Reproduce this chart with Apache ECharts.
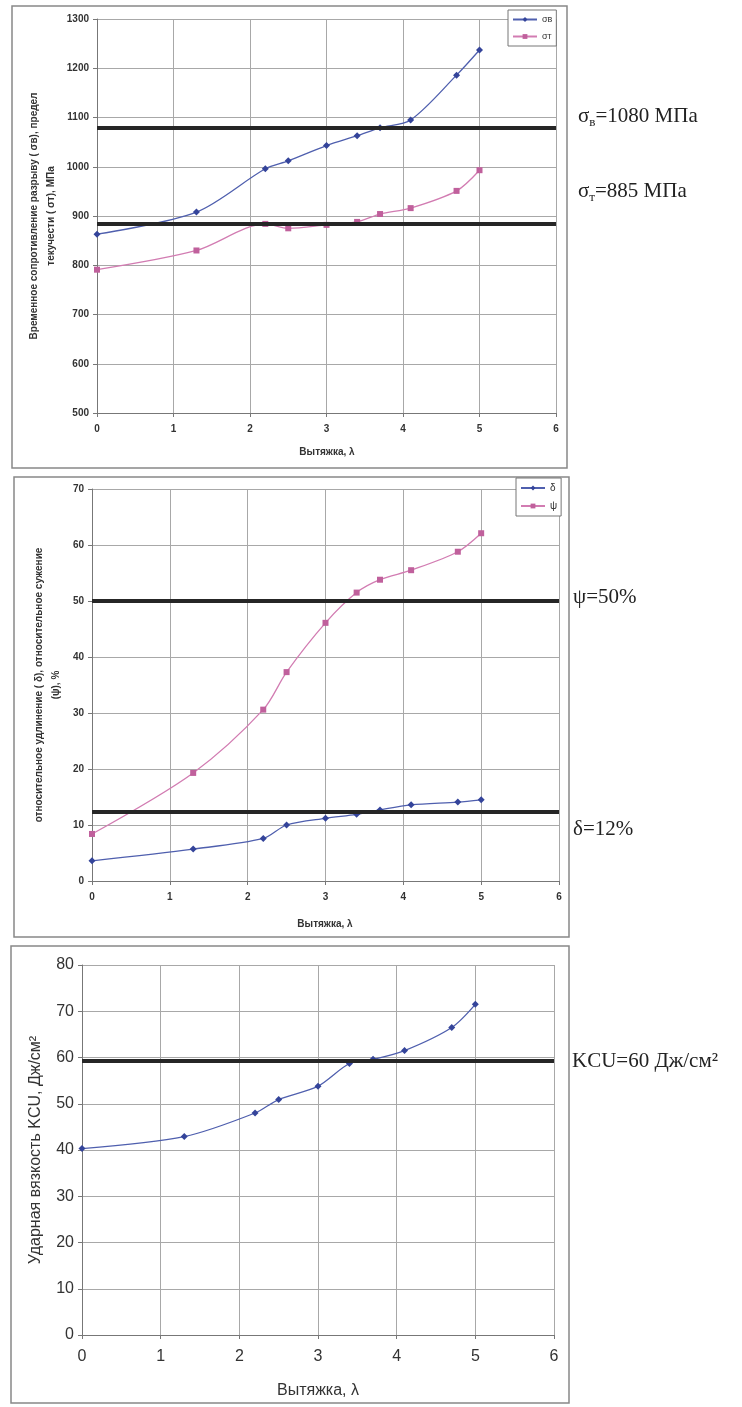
<!DOCTYPE html>
<html>
<head>
<meta charset="utf-8">
<script src="https://cdn.jsdelivr.net/npm/echarts@6/dist/echarts.min.js"></script>
<style>
  html, body { margin: 0; padding: 0; background: #fff; }
  #main { width: 742px; height: 1407px; }
</style>
</head>
<body>
<div id="main"></div>
<script>
"use strict";

// вытяжка (общая ось X для всех трёх графиков)
var lambdaX = [0, 1.3, 2.2, 2.5, 3.0, 3.4, 3.7, 4.1, 4.7, 5.0];
var xTicks = [0, 1, 2, 3, 4, 5, 6];

// график 1: прочность, МПа
var sigmaB = [863, 908, 996, 1012, 1043, 1063, 1079, 1095, 1186, 1237];
var sigmaT = [791, 830, 884, 875, 882, 888, 904, 916, 951, 993];
var limSigmaB = 1080;
var limSigmaT = 885;

// график 2: пластичность, %
var delta = [3.6, 5.7, 7.6, 10.0, 11.2, 11.9, 12.7, 13.6, 14.1, 14.5];
var psi = [8.4, 19.3, 30.6, 37.3, 46.1, 51.5, 53.8, 55.5, 58.8, 62.1];
var limPsi = 50;
var limDelta = 12.4;

// график 3: ударная вязкость
var kcu = [40.3, 42.9, 48.0, 50.9, 53.8, 58.7, 59.6, 61.5, 66.5, 71.5];
var limKcu = 59.4;

var BLUE = '#4f5fae';
var BLUE_DOT = '#34449a';
var PINK = '#d27cb2';
var PINK_DOT = '#c0609c';
var GRID = '#a8a8a8';

function pairs(ys) {
    return lambdaX.map(function (x, i) { return [x, ys[i]]; });
}

function limit(v) {
    return {
        silent: true,
        symbol: ['none', 'none'],
        label: { show: false },
        lineStyle: { color: '#262626', width: 4, type: 'solid' },
        data: [{ yAxis: v }]
    };
}

function xAx(grid, size, bold, gap) {
    return {
        type: 'value', gridIndex: grid, min: 0, max: 6, interval: 1,
        axisLine: { show: true, onZero: false, lineStyle: { color: '#777' } },
        axisTick: { show: true, length: 4, lineStyle: { color: '#777' } },
        axisLabel: { color: '#333', fontSize: size, fontWeight: bold ? 'bold' : 'normal',
            fontFamily: 'Liberation Sans', margin: gap,
            formatter: function (v) { return String(v); } },
        splitLine: { show: true, lineStyle: { color: GRID, width: 1 } }
    };
}

function yAx(grid, mn, mx, iv, size, bold) {
    return {
        type: 'value', gridIndex: grid, min: mn, max: mx, interval: iv,
        axisLine: { show: true, lineStyle: { color: '#777' } },
        axisTick: { show: true, length: 4, lineStyle: { color: '#777' } },
        axisLabel: { color: '#333', fontSize: size, fontWeight: bold ? 'bold' : 'normal',
            fontFamily: 'Liberation Sans', margin: 8,
            formatter: function (v) { return String(v); } },
        splitLine: { show: true, lineStyle: { color: GRID, width: 1 } }
    };
}

function frame(x, y, w, h) {
    return {
        type: 'rect', silent: true,
        shape: { x: x, y: y, width: w, height: h },
        style: { fill: 'none', stroke: '#888', lineWidth: 1.5 }
    };
}

function txt(x, y, s, size, bold, rot) {
    return {
        type: 'text', silent: true, x: x, y: y, rotation: rot || 0,
        style: { text: s, fill: '#333', fontSize: size, fontWeight: bold ? 'bold' : 'normal',
            fontFamily: 'Liberation Sans', align: 'center', verticalAlign: 'middle', lineHeight: size + 7 }
    };
}

function note(x, y, main, sub, rest) {
    return {
        type: 'text', silent: true, x: x, y: y,
        style: {
            text: '{m|' + main + '}' + (sub ? '{s|' + sub + '}' : '') + '{m|' + rest + '}',
            align: 'left', verticalAlign: 'middle',
            rich: {
                m: { fontFamily: 'Liberation Serif', fontSize: 21, fill: '#222', lineHeight: 26 },
                s: { fontFamily: 'Liberation Serif', fontSize: 13, fill: '#222', verticalAlign: 'bottom', lineHeight: 20 }
            }
        }
    };
}

var dom = document.getElementById('main');
var myChart = echarts.init(dom, null, { renderer: 'canvas' });

var option = {
    animation: false,
    backgroundColor: '#fff',
    grid: [
        { left: 97, top: 19, width: 459, height: 394 },
        { left: 92, top: 489, width: 467, height: 392 },
        { left: 82, top: 965, width: 472, height: 370 }
    ],
    xAxis: [xAx(0, 10, true, 11), xAx(1, 10, true, 11), xAx(2, 16, false, 14)],
    yAxis: [
        yAx(0, 500, 1300, 100, 10, true),
        yAx(1, 0, 70, 10, 10, true),
        yAx(2, 0, 80, 10, 16, false)
    ],
    legend: [
        {
            data: ['σв', 'σт'], orient: 'vertical', left: 508, top: 10,
            itemWidth: 24, itemHeight: 6, itemGap: 8, padding: [5, 4, 5, 4],
            borderColor: '#777', borderWidth: 1, backgroundColor: '#fff',
            textStyle: { fontSize: 9, color: '#333', fontFamily: 'Liberation Sans' }
        },
        {
            data: ['δ', 'ψ'], orient: 'vertical', left: 516, top: 478,
            itemWidth: 24, itemHeight: 6, itemGap: 8, padding: [5, 4, 5, 4],
            borderColor: '#777', borderWidth: 1, backgroundColor: '#fff',
            textStyle: { fontSize: 10, color: '#333', fontFamily: 'Liberation Sans' }
        }
    ],
    series: [
        {
            name: 'σв', type: 'line', xAxisIndex: 0, yAxisIndex: 0, smooth: 0.3,
            symbol: 'diamond', symbolSize: 7, data: pairs(sigmaB),
            lineStyle: { color: BLUE, width: 1.3 }, itemStyle: { color: BLUE_DOT },
            markLine: limit(limSigmaB)
        },
        {
            name: 'σт', type: 'line', xAxisIndex: 0, yAxisIndex: 0, smooth: 0.3,
            symbol: 'rect', symbolSize: 6, data: pairs(sigmaT),
            lineStyle: { color: PINK, width: 1.3 }, itemStyle: { color: PINK_DOT },
            markLine: limit(limSigmaT)
        },
        {
            name: 'δ', type: 'line', xAxisIndex: 1, yAxisIndex: 1, smooth: 0.3,
            symbol: 'diamond', symbolSize: 7, data: pairs(delta),
            lineStyle: { color: BLUE, width: 1.3 }, itemStyle: { color: BLUE_DOT },
            markLine: limit(limDelta)
        },
        {
            name: 'ψ', type: 'line', xAxisIndex: 1, yAxisIndex: 1, smooth: 0.3,
            symbol: 'rect', symbolSize: 6, data: pairs(psi),
            lineStyle: { color: PINK, width: 1.3 }, itemStyle: { color: PINK_DOT },
            markLine: limit(limPsi)
        },
        {
            name: 'KCU', type: 'line', xAxisIndex: 2, yAxisIndex: 2, smooth: 0.3,
            symbol: 'diamond', symbolSize: 7, data: pairs(kcu),
            lineStyle: { color: BLUE, width: 1.3 }, itemStyle: { color: BLUE_DOT },
            markLine: limit(limKcu)
        }
    ],
    graphic: [
        frame(12, 6, 555, 462),
        frame(14, 477, 555, 460),
        frame(11, 946, 558, 457),

        txt(327, 452, 'Вытяжка, λ', 10, true),
        txt(325, 924, 'Вытяжка, λ', 10, true),
        txt(318, 1391, 'Вытяжка, λ', 16, false),

        txt(43, 216, 'Временное сопротивление разрыву ( σв), предел\nтекучести ( σт), МПа', 10, true, Math.PI / 2),
        txt(48, 685, 'относительное удлинение ( δ), относительное сужение\n(ψ), %', 10, true, Math.PI / 2),
        txt(36, 1150, 'Ударная вязкость KCU, Дж/см²', 16, false, Math.PI / 2),

        note(578, 116, 'σ', 'в', '=1080 МПа'),
        note(578, 191, 'σ', 'т', '=885 МПа'),
        note(573, 597, 'ψ=50%', '', ''),
        note(573, 829, 'δ=12%', '', ''),
        note(572, 1061, 'KCU=60 Дж/см²', '', '')
    ]
};

if (option && typeof option === 'object') {
    myChart.setOption(option);
}
</script>
</body>
</html>
